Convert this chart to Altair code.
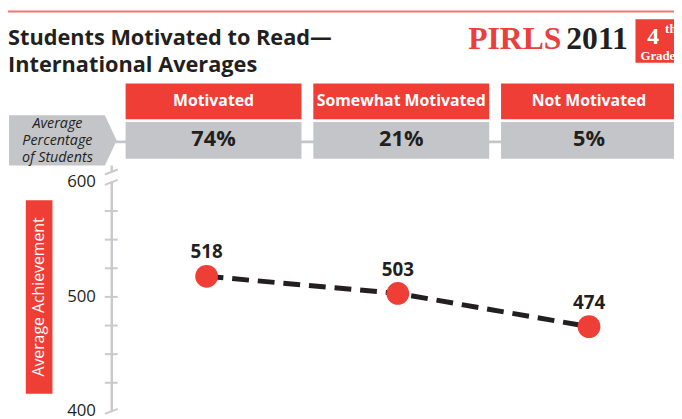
import altair as alt
import pandas as pd

# ---- data ----
categories = ["Motivated", "Somewhat Motivated", "Not Motivated"]
percentages = [74, 21, 5]
achievement = [518, 503, 474]
minor_ticks = [425, 450, 475, 500, 525, 550, 575]
end_ticks = [400, 600]
axis_labels = [400, 500, 600]
title_lines = ["Students Motivated to Read—", "International Averages"]
label_lines = ["Average", "Percentage", "of Students"]

RED = "#ee3e36"
GRAY = "#c4c5c9"
AXIS_GRAY = "#c9cacd"
DARK = "#231f20"
SANS = "Open Sans"
SERIF = "Liberation Serif"

df = pd.DataFrame({"cat": categories, "pct": percentages, "ach": achievement})
df["pct_label"] = df["pct"].astype(str) + "%"
ticks_df = pd.DataFrame({"v": minor_ticks})
ends_df = pd.DataFrame({"v": end_ticks})
labels_df = pd.DataFrame({"v": axis_labels})

box_x = alt.Scale(type="band", domain=categories, range=[119, 677], paddingInner=0.063, paddingOuter=0)
dot_x = alt.Scale(type="point", domain=categories, range=[201, 588], padding=0)
y_sc = alt.Scale(domain=[400, 600], range=[405.8, 174], nice=False, zero=False)

one = pd.DataFrame({"a": [0]})
base1 = alt.Chart(one)

top_line = base1.mark_rule(color="#f07870", strokeWidth=2).encode(
    x=alt.value(0), x2=alt.value(674), y=alt.value(1))

title = base1.mark_text(align="left", baseline="alphabetic", font=SANS, fontWeight="bold",
                        fontSize=22, color=DARK, lineHeight=27).encode(
    x=alt.value(0), y=alt.value(35), text=alt.value(title_lines))

pirls = base1.mark_text(align="right", baseline="alphabetic", font=SERIF, fontWeight="bold",
                        fontSize=32, color="#e8403a").encode(
    x=alt.value(560), y=alt.value(39), text=alt.value("PIRLS"))
year = base1.mark_text(align="left", baseline="alphabetic", font=SERIF, fontWeight="bold",
                       fontSize=32, color=DARK).encode(
    x=alt.value(565), y=alt.value(39), text=alt.value("2011"))
grade_box = base1.mark_rect(color=RED).encode(
    x=alt.value(635), x2=alt.value(680), y=alt.value(9), y2=alt.value(53))
grade4 = base1.mark_text(align="center", baseline="alphabetic", font=SERIF, fontWeight="bold",
                         fontSize=24, color="white").encode(
    x=alt.value(653), y=alt.value(34), text=alt.value("4"))
grade_th = base1.mark_text(align="left", baseline="alphabetic", font=SERIF, fontWeight="bold",
                           fontSize=13, color="white").encode(
    x=alt.value(665), y=alt.value(23), text=alt.value("th"))
grade_txt = base1.mark_text(align="left", baseline="alphabetic", font=SERIF, fontWeight="bold",
                            fontSize=13, color="white").encode(
    x=alt.value(640), y=alt.value(50), text=alt.value("Grade"))

# gray connector behind boxes
connector = base1.mark_rule(color=GRAY, strokeWidth=3).encode(
    x=alt.value(108), x2=alt.value(505), y=alt.value(133))

pent_path = "M-1,-0.468L0.78,-0.468L1,0L0.78,0.468L-1,0.468Z"
label_shape = base1.mark_point(shape=pent_path, size=109 * 109, filled=True, color=GRAY,
                               opacity=1, strokeWidth=0).encode(
    x=alt.value(55.5), y=alt.value(131.5))
label_text = base1.mark_text(align="center", baseline="middle", font=SANS, fontStyle="italic",
                             fontSize=14.5, color=DARK, lineHeight=17).encode(
    x=alt.value(50), y=alt.value(115), text=alt.value(label_lines))

stub = base1.mark_rule(color=AXIS_GRAY, strokeWidth=2.5).encode(
    x=alt.value(105), x2=alt.value(105), y=alt.value(157), y2=alt.value(164))
stub_bar = base1.mark_rule(color=AXIS_GRAY, strokeWidth=2).encode(
    x=alt.value(98), x2=alt.value(111), y=alt.value(166), y2=alt.value(161))

base = alt.Chart(df)
header_rect = base.mark_rect(color=RED).encode(
    x=alt.X("cat:N", scale=box_x, axis=None), y=alt.value(74), y2=alt.value(110))
header_text = base.mark_text(color="white", font=SANS, fontWeight="bold", fontSize=16,
                             baseline="middle").encode(
    x=alt.X("cat:N", scale=box_x, axis=None), y=alt.value(92), text="cat:N")
pct_rect = base.mark_rect(color=GRAY).encode(
    x=alt.X("cat:N", scale=box_x, axis=None), y=alt.value(113), y2=alt.value(150))
pct_text = base.mark_text(color=DARK, font=SANS, fontWeight="bold", fontSize=22,
                          baseline="middle").encode(
    x=alt.X("cat:N", scale=box_x, axis=None), y=alt.value(130), text="pct_label:N")

# y axis drawn by hand from the y scale
axis_line = base1.mark_rule(color=AXIS_GRAY, strokeWidth=2.5).encode(
    x=alt.value(105), x2=alt.value(105), y=alt.value(173), y2=alt.value(406))
ticks = alt.Chart(ticks_df).mark_rule(color=AXIS_GRAY, strokeWidth=2).encode(
    x=alt.value(98), x2=alt.value(111),
    y=alt.Y("v:Q", scale=y_sc, axis=None), y2="v:Q")
end_marks = alt.Chart(ends_df).mark_rule(color=AXIS_GRAY, strokeWidth=2, yOffset=2.5, y2Offset=-2.5).encode(
    x=alt.value(98), x2=alt.value(111),
    y=alt.Y("v:Q", scale=y_sc, axis=None), y2="v:Q")
tick_labels = alt.Chart(labels_df).mark_text(align="right", baseline="middle", font=SANS,
                                             fontSize=17, color=DARK).encode(
    x=alt.value(89), y=alt.Y("v:Q", scale=y_sc, axis=None), text="v:Q")

ach_box = base1.mark_rect(color=RED).encode(
    x=alt.value(18), x2=alt.value(45), y=alt.value(192), y2=alt.value(388))
ach_text = base1.mark_text(angle=270, align="center", baseline="middle", font=SANS,
                           fontSize=16, color="white").encode(
    x=alt.value(31.5), y=alt.value(290), text=alt.value("Average Achievement"))

line = base.mark_line(strokeDash=[17, 9], strokeWidth=5, color=DARK).encode(
    x=alt.X("cat:N", scale=dot_x, axis=None, sort=categories),
    y=alt.Y("ach:Q", scale=y_sc, axis=None))
dots = base.mark_circle(size=531, color=RED, opacity=1).encode(
    x=alt.X("cat:N", scale=dot_x, axis=None, sort=categories),
    y=alt.Y("ach:Q", scale=y_sc, axis=None))
dot_labels = base.mark_text(dy=-24, font=SANS, fontWeight="bold", fontSize=19, color=DARK,
                            baseline="middle").encode(
    x=alt.X("cat:N", scale=dot_x, axis=None, sort=categories),
    y=alt.Y("ach:Q", scale=y_sc, axis=None), text="ach:Q")

chart = alt.layer(
    top_line, title, pirls, year, grade_box, grade4, grade_th, grade_txt,
    connector, label_shape, label_text, stub, stub_bar,
    header_rect, header_text, pct_rect, pct_text,
    axis_line, ticks, end_marks, tick_labels, ach_box, ach_text,
    line, dots, dot_labels,
).resolve_scale(x="independent").properties(
    width=674, height=411, padding=0, autosize="none"
).configure_view(stroke=None)

chart.save("out.html", embed_options={"renderer": "svg", "actions": False})
